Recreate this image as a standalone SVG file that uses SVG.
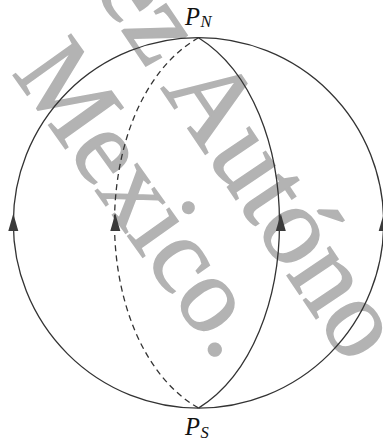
<svg xmlns="http://www.w3.org/2000/svg" width="383" height="441" viewBox="0 0 383 441">
<style>
.wm{font-family:"Liberation Serif","Times New Roman",serif;fill:#b3b3b3;stroke:#b3b3b3;stroke-width:1.6}
.ln{fill:none;stroke:#333;stroke-width:1.3}
.dash{stroke-dasharray:6 4.2}
.arr{fill:#3a3a3a;stroke:none}
.lbl{font-family:"Liberation Serif","Times New Roman",serif;font-style:italic;fill:#111}
</style>
<defs>
<path id="ah" d="M0,-9 L5,8.5 L-5,8.5 Z"/>
</defs>
<g id="watermark">
<text class="wm" font-size="112" transform="translate(92.7,-12.7) rotate(56)">ez Autóno</text>
<text class="wm" font-size="108" transform="translate(11.5,73) rotate(54.5)">Mexico.</text>
</g>
<g id="connectors">
<circle class="ln" cx="198.5" cy="222.9" r="185.2"/>
<path class="ln dash" d="M198.5,37.7 C86.5,102.4 86.5,343.4 198.5,408.1"/>
<path class="ln" d="M198.5,408.1 C306.5,340.6 306.5,105.2 198.5,37.7"/>
<use href="#ah" class="arr" x="13.3" y="222.5"/>
<use href="#ah" class="arr" x="115.3" y="222.5"/>
<use href="#ah" class="arr" x="280.8" y="222.5"/>
<use href="#ah" class="arr" x="383.7" y="222.5"/>
</g>
<g id="PN">
<text class="lbl" x="185" y="24.5" font-size="24.5">P<tspan font-size="16.5" dx="0.5" dy="2.5">N</tspan></text>
</g>
<g id="PS">
<text class="lbl" x="185" y="435" font-size="24.5">P<tspan font-size="16.5" dx="0.5" dy="3">S</tspan></text>
</g>
</svg>
